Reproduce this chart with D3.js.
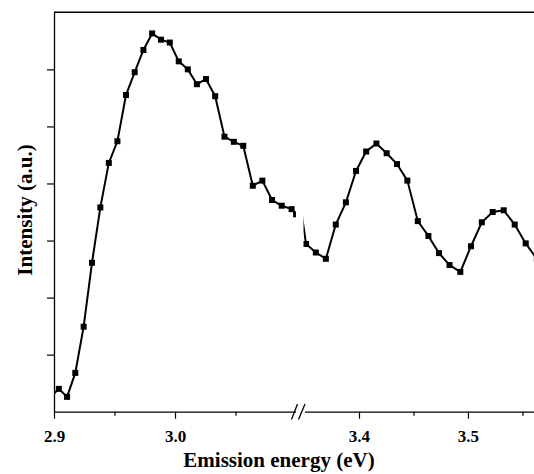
<!DOCTYPE html>
<html>
<head>
<meta charset="utf-8">
<script src="https://cdn.jsdelivr.net/npm/d3@7"></script>
<style>
  body { margin: 0; background: #fff; }
  text { font-family: "Liberation Serif", "Times New Roman", serif; font-weight: bold; }
</style>
</head>
<body>
<div id="chart"></div>
<script>
// emission energy (eV) and intensity (a.u.)
// first and last points of each part lie just outside the panel (clipped)
var leftEnergy = [2.8972, 2.9040, 2.9108, 2.9176, 2.9245, 2.9314, 2.9383, 2.9453, 2.9524,
    2.9595, 2.9667, 2.9739, 2.9811, 2.9884, 2.9957, 3.0031, 3.0106, 3.0181, 3.0256,
    3.0332, 3.0409, 3.0486, 3.0564, 3.0643, 3.0722, 3.0802, 3.0882, 3.0964, 3.1000, 3.1078];
var leftIntensity = [0.26, 0.40, 0.26, 0.68, 1.49, 2.61, 3.58, 4.36, 4.74,
    5.55, 5.95, 6.34, 6.63, 6.52, 6.47, 6.14, 6.00, 5.74, 5.83,
    5.53, 4.82, 4.73, 4.66, 3.96, 4.05, 3.71, 3.61, 3.55, 3.46, 3.43];

var rightEnergy = [3.3423, 3.3514, 3.3604, 3.3696, 3.3787, 3.3880, 3.3973, 3.4066, 3.4160,
    3.4254, 3.4349, 3.4444, 3.4540, 3.4637, 3.4734, 3.4831, 3.4930, 3.5028, 3.5127,
    3.5227, 3.5328, 3.5429, 3.5530, 3.5632];
var rightIntensity = [4.15, 2.94, 2.79, 2.68, 3.28, 3.67, 4.22, 4.56, 4.70,
    4.53, 4.34, 4.05, 3.34, 3.08, 2.78, 2.57, 2.45, 2.90, 3.32,
    3.50, 3.53, 3.28, 2.95, 2.68];

var leftMajor = [2.9, 3.0], leftMinor = [2.95, 3.05];
var rightMajor = [3.4, 3.5], rightMinor = [3.45, 3.55];
var yTicks = [1, 2, 3, 4, 5, 6];

var width = 534, height = 474;
var svg = d3.select("#chart").append("svg")
    .attr("width", width)
    .attr("height", height);

var xLeft = d3.scaleLinear().domain([2.9, 3.1]).range([54, 296]);
var xRight = d3.scaleLinear().domain([3.35, 3.5606]).range([304.5, 534]);
var y = d3.scaleLinear().domain([0, 7]).range([411.7, 12.3]);

// clip regions for the two halves of the broken axis
var defs = svg.append("defs");
defs.append("clipPath").attr("id", "clipL")
    .append("rect").attr("x", 54).attr("y", 0).attr("width", 296 - 54).attr("height", 412);
defs.append("clipPath").attr("id", "clipR")
    .append("rect").attr("x", 303.5).attr("y", 0).attr("width", 534 - 303.5).attr("height", 412);

function drawAxisX(scale, major, minor) {
    svg.append("g")
        .attr("transform", "translate(0,411.7)")
        .call(d3.axisBottom(scale).tickValues(minor).tickSize(4).tickFormat("").tickSizeOuter(0))
        .call(function(g){ g.select(".domain").attr("stroke-width", 1.3); });
    svg.append("g")
        .attr("transform", "translate(0,411.7)")
        .call(d3.axisBottom(scale).tickValues(major).tickSize(7).tickPadding(11)
            .tickFormat(d3.format(".1f")).tickSizeOuter(0))
        .call(function(g){
            g.select(".domain").remove();
            g.selectAll("text").style("font-size", "17px")
                .attr("font-family", null).attr("fill", "#000");
        });
}
drawAxisX(xLeft, leftMajor, leftMinor);
drawAxisX(xRight, rightMajor, rightMinor);

svg.selectAll(".tick line").attr("stroke-width", 1.2);

// y axis, no labels
svg.append("g")
    .attr("transform", "translate(54,0)")
    .call(d3.axisLeft(y).tickValues(yTicks).tickSize(7).tickFormat("").tickSizeOuter(0))
    .call(function(g){
        g.select(".domain").attr("stroke-width", 1.3);
        g.selectAll("line").attr("stroke-width", 1.2);
    });

// top frame line
svg.append("line")
    .attr("x1", 54).attr("x2", 534)
    .attr("y1", y(7)).attr("y2", y(7))
    .attr("stroke", "#000").attr("stroke-width", 1.5);

// break marks
svg.append("rect").attr("x", 296).attr("y", 408).attr("width", 8).attr("height", 8).attr("fill", "#fff");
[[291.5, 297.5], [298.5, 305]].forEach(function(s){
    svg.append("line")
        .attr("x1", s[0]).attr("y1", 419.5)
        .attr("x2", s[1]).attr("y2", 404)
        .attr("stroke", "#000").attr("stroke-width", 1.3);
});

function drawPart(scale, xs, ys, clip) {
    var pts = xs.map(function(d, i){ return [d, ys[i]]; });
    var g = svg.append("g").attr("clip-path", "url(#" + clip + ")");
    g.append("path")
        .datum(pts)
        .attr("fill", "none")
        .attr("stroke", "#000")
        .attr("stroke-width", 2)
        .attr("d", d3.line()
            .x(function(d){ return scale(d[0]); })
            .y(function(d){ return y(d[1]); }));
    g.selectAll("rect.pt")
        .data(pts)
        .enter()
        .append("rect")
        .attr("class", "pt")
        .attr("x", function(d){ return scale(d[0]) - 3; })
        .attr("y", function(d){ return y(d[1]) - 3; })
        .attr("width", 6)
        .attr("height", 6)
        .attr("fill", "#000");
}
drawPart(xLeft, leftEnergy, leftIntensity, "clipL");
drawPart(xRight, rightEnergy, rightIntensity, "clipR");

// axis titles
svg.append("text")
    .attr("x", 279).attr("y", 467)
    .attr("text-anchor", "middle")
    .style("font-size", "21px")
    .text("Emission energy (eV)");

svg.append("text")
    .attr("transform", "translate(32,210) rotate(-90)")
    .attr("text-anchor", "middle")
    .style("font-size", "21px")
    .text("Intensity (a.u.)");
</script>
</body>
</html>
